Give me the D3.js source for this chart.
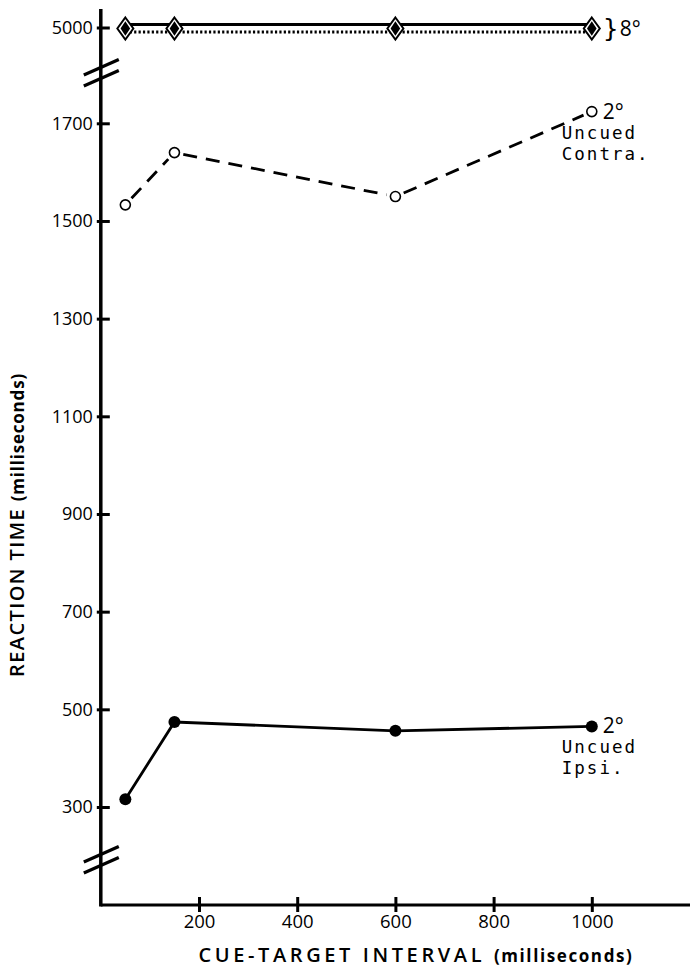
<!DOCTYPE html>
<html>
<head>
<meta charset="utf-8">
<script src="https://cdn.jsdelivr.net/npm/d3@7"></script>
<style>
  html, body { margin: 0; padding: 0; background: #fff; }
  svg { display: block; }
</style>
</head>
<body>
<svg id="chart" width="695" height="970"></svg>
<script>
// Cue-target interval (ms) at which reaction time was measured
const intervals = [50, 150, 600, 1000];

// Reaction times (ms)
const ipsi2 = [316, 474, 456, 465];        // 2°, uncued ipsilateral
const contra2 = [1533, 1640, 1550, 1724];  // 2°, uncued contralateral
const solid8 = [5000, 5000, 5000, 5000];   // 8°, solid line (ceiling)
const dotted8 = [5000, 5000, 5000, 5000];  // 8°, dotted line (ceiling)

// Axis ticks
const xTicks = [200, 400, 600, 800, 1000];
const yTicksMain = [300, 500, 700, 900, 1100, 1300, 1500, 1700];
const yTicksTop = [5000];

const svg = d3.select("#chart");
const tickFont = "'Open Sans', sans-serif";
const labelFont = "'DejaVu Sans Mono', monospace";

// Scales: linear x, broken y (main segment + a separate band for 5000)
const x = d3.scaleLinear().domain([0, 1200]).range([100.8, 690]);
const yMain = d3.scaleLinear().domain([300, 1700]).range([807, 123.3]);
const yTop = d3.scaleLinear().domain([4800, 5200]).range([27.5 + 97.7, 27.5 - 97.7]);
const y = v => (v >= 5000 ? yTop(v) : yMain(v));

const axisX = x(0);
const axisY = 905;

// ---- y axis ----
svg.append("line")
  .attr("x1", axisX).attr("x2", axisX)
  .attr("y1", 9).attr("y2", axisY + 1.5)
  .attr("stroke", "#000").attr("stroke-width", 3.5);

function styleYAxis(g) {
  g.select(".domain").remove();
  g.selectAll(".tick line")
    .attr("x1", 9)
    .attr("stroke", "#000").attr("stroke-width", 3);
  g.selectAll(".tick text")
    .attr("fill", "#000")
    .style("font-family", tickFont).style("font-size", "18px");
}

svg.append("g")
  .attr("transform", `translate(${axisX},0)`)
  .call(d3.axisLeft(yMain).tickValues(yTicksMain).tickSize(4).tickPadding(4).tickFormat(d3.format("d")))
  .call(styleYAxis);

svg.append("g")
  .attr("transform", `translate(${axisX},0)`)
  .call(d3.axisLeft(yTop).tickValues(yTicksTop).tickSize(4).tickPadding(4).tickFormat(d3.format("d")))
  .call(styleYAxis);

// axis break marks (two parallel slashes)
function breakMarks(cy) {
  [-5.5, 5.5].forEach(off => {
    svg.append("line")
      .attr("x1", axisX - 17).attr("y1", cy + off + 7.5)
      .attr("x2", axisX + 18).attr("y2", cy + off - 8)
      .attr("stroke", "#000").attr("stroke-width", 3.2);
  });
}
breakMarks(73);
breakMarks(860);

// ---- x axis ----
const gx = svg.append("g")
  .attr("transform", `translate(0,${axisY})`)
  .call(d3.axisBottom(x).tickValues(xTicks).tickSize(7).tickPadding(3).tickFormat(d3.format("d")));
gx.select(".domain")
  .attr("stroke", "#000").attr("stroke-width", 3)
  .attr("d", `M${axisX},0H690`);
gx.selectAll(".tick line").attr("y1", -8).attr("stroke", "#000").attr("stroke-width", 3);
gx.selectAll(".tick text")
  .attr("fill", "#000")
  .style("font-family", tickFont).style("font-size", "18.5px");

// ---- axis titles ----
const xt = svg.append("text")
  .attr("x", 416).attr("y", 962)
  .attr("text-anchor", "middle")
  .style("font-family", tickFont).attr("fill", "#000");
xt.append("tspan").text("CUE-TARGET INTERVAL ")
  .style("font-size", "20px").style("font-weight", 600).style("letter-spacing", "3.6px");
xt.append("tspan").text("(milliseconds)")
  .style("font-size", "17px").style("font-weight", 700).style("letter-spacing", "1.6px");

const yt = svg.append("text")
  .attr("transform", "translate(24,525) rotate(-90)")
  .attr("text-anchor", "middle")
  .style("font-family", tickFont).attr("fill", "#000");
yt.append("tspan").text("REACTION TIME ")
  .style("font-size", "20px").style("font-weight", 600).style("letter-spacing", "1.4px");
yt.append("tspan").text("(milliseconds)")
  .style("font-size", "17px").style("font-weight", 700).style("letter-spacing", "0.8px");

// ---- 8° series: solid and dotted lines, diamond markers ----
const pts = vals => intervals.map((d, i) => [x(d), y(vals[i])]);

svg.append("path")
  .attr("d", d3.line()(pts(solid8).map(p => [p[0], p[1] - 3])))
  .attr("fill", "none").attr("stroke", "#000").attr("stroke-width", 3);

svg.append("path")
  .attr("d", d3.line()(pts(dotted8).map(p => [p[0], p[1] + 4.5])))
  .attr("fill", "none").attr("stroke", "#000").attr("stroke-width", 3)
  .attr("stroke-dasharray", "2.2,2.2");

const diamond = (hw, hh) => `M0,${-hh}L${hw},0L0,${hh}L${-hw},0Z`;
const dg = svg.append("g");
pts(solid8).forEach(p => {
  const g = dg.append("g").attr("transform", `translate(${p[0]},${p[1] + 1})`);
  g.append("path").attr("d", diamond(8, 11))
    .attr("fill", "#fff").attr("stroke", "#000").attr("stroke-width", 2);
  g.append("path").attr("d", diamond(4.8, 7.2)).attr("fill", "#000");
});

const last8 = pts(solid8)[3];
svg.append("text")
  .attr("x", last8[0] + 11).attr("y", last8[1] + 9)
  .style("font-family", "'DejaVu Sans', sans-serif").style("font-size", "25px")
  .attr("fill", "#000")
  .text("}");
svg.append("text")
  .attr("x", last8[0] + 28).attr("y", last8[1] + 8)
  .style("font-family", tickFont).style("font-size", "21px").attr("fill", "#000")
  .text("8°");

// ---- 2° uncued contra: dashed line, open circles ----
const cpts = pts(contra2);
for (let i = 0; i < cpts.length - 1; i++) {
  const [x1, y1] = cpts[i], [x2, y2] = cpts[i + 1];
  const len = Math.hypot(x2 - x1, y2 - y1);
  const ux = (x2 - x1) / len, uy = (y2 - y1) / len;
  const gap = 9;
  svg.append("line")
    .attr("x1", x1 + ux * gap).attr("y1", y1 + uy * gap)
    .attr("x2", x2 - ux * gap).attr("y2", y2 - uy * gap)
    .attr("stroke", "#000").attr("stroke-width", 2.8)
    .attr("stroke-dasharray", "14,9");
}
svg.selectAll("circle.contra").data(cpts).join("circle")
  .attr("class", "contra")
  .attr("cx", d => d[0]).attr("cy", d => d[1]).attr("r", 5)
  .attr("fill", "#fff").attr("stroke", "#000").attr("stroke-width", 1.6);

// ---- 2° uncued ipsi: solid line, filled dots ----
const ipts = pts(ipsi2);
svg.append("path")
  .attr("d", d3.line()(ipts))
  .attr("fill", "none").attr("stroke", "#000").attr("stroke-width", 2.8);
svg.selectAll("circle.ipsi").data(ipts).join("circle")
  .attr("class", "ipsi")
  .attr("cx", d => d[0]).attr("cy", d => d[1]).attr("r", 6)
  .attr("fill", "#000");

// ---- series labels ----
function seriesLabel(p, lines) {
  svg.append("text")
    .attr("x", p[0] + 11).attr("y", p[1] + 7)
    .style("font-family", tickFont).style("font-size", "21px").attr("fill", "#000")
    .text("2°");
  lines.forEach((t, i) => {
    svg.append("text")
      .attr("x", p[0] - 30).attr("y", p[1] + 27 + i * 21)
      .style("font-family", labelFont).style("font-size", "17.5px")
      .style("letter-spacing", "2px").attr("fill", "#000")
      .text(t);
  });
}
seriesLabel(cpts[3], ["Uncued", "Contra."]);
seriesLabel(ipts[3], ["Uncued", "Ipsi."]);
</script>
</body>
</html>
